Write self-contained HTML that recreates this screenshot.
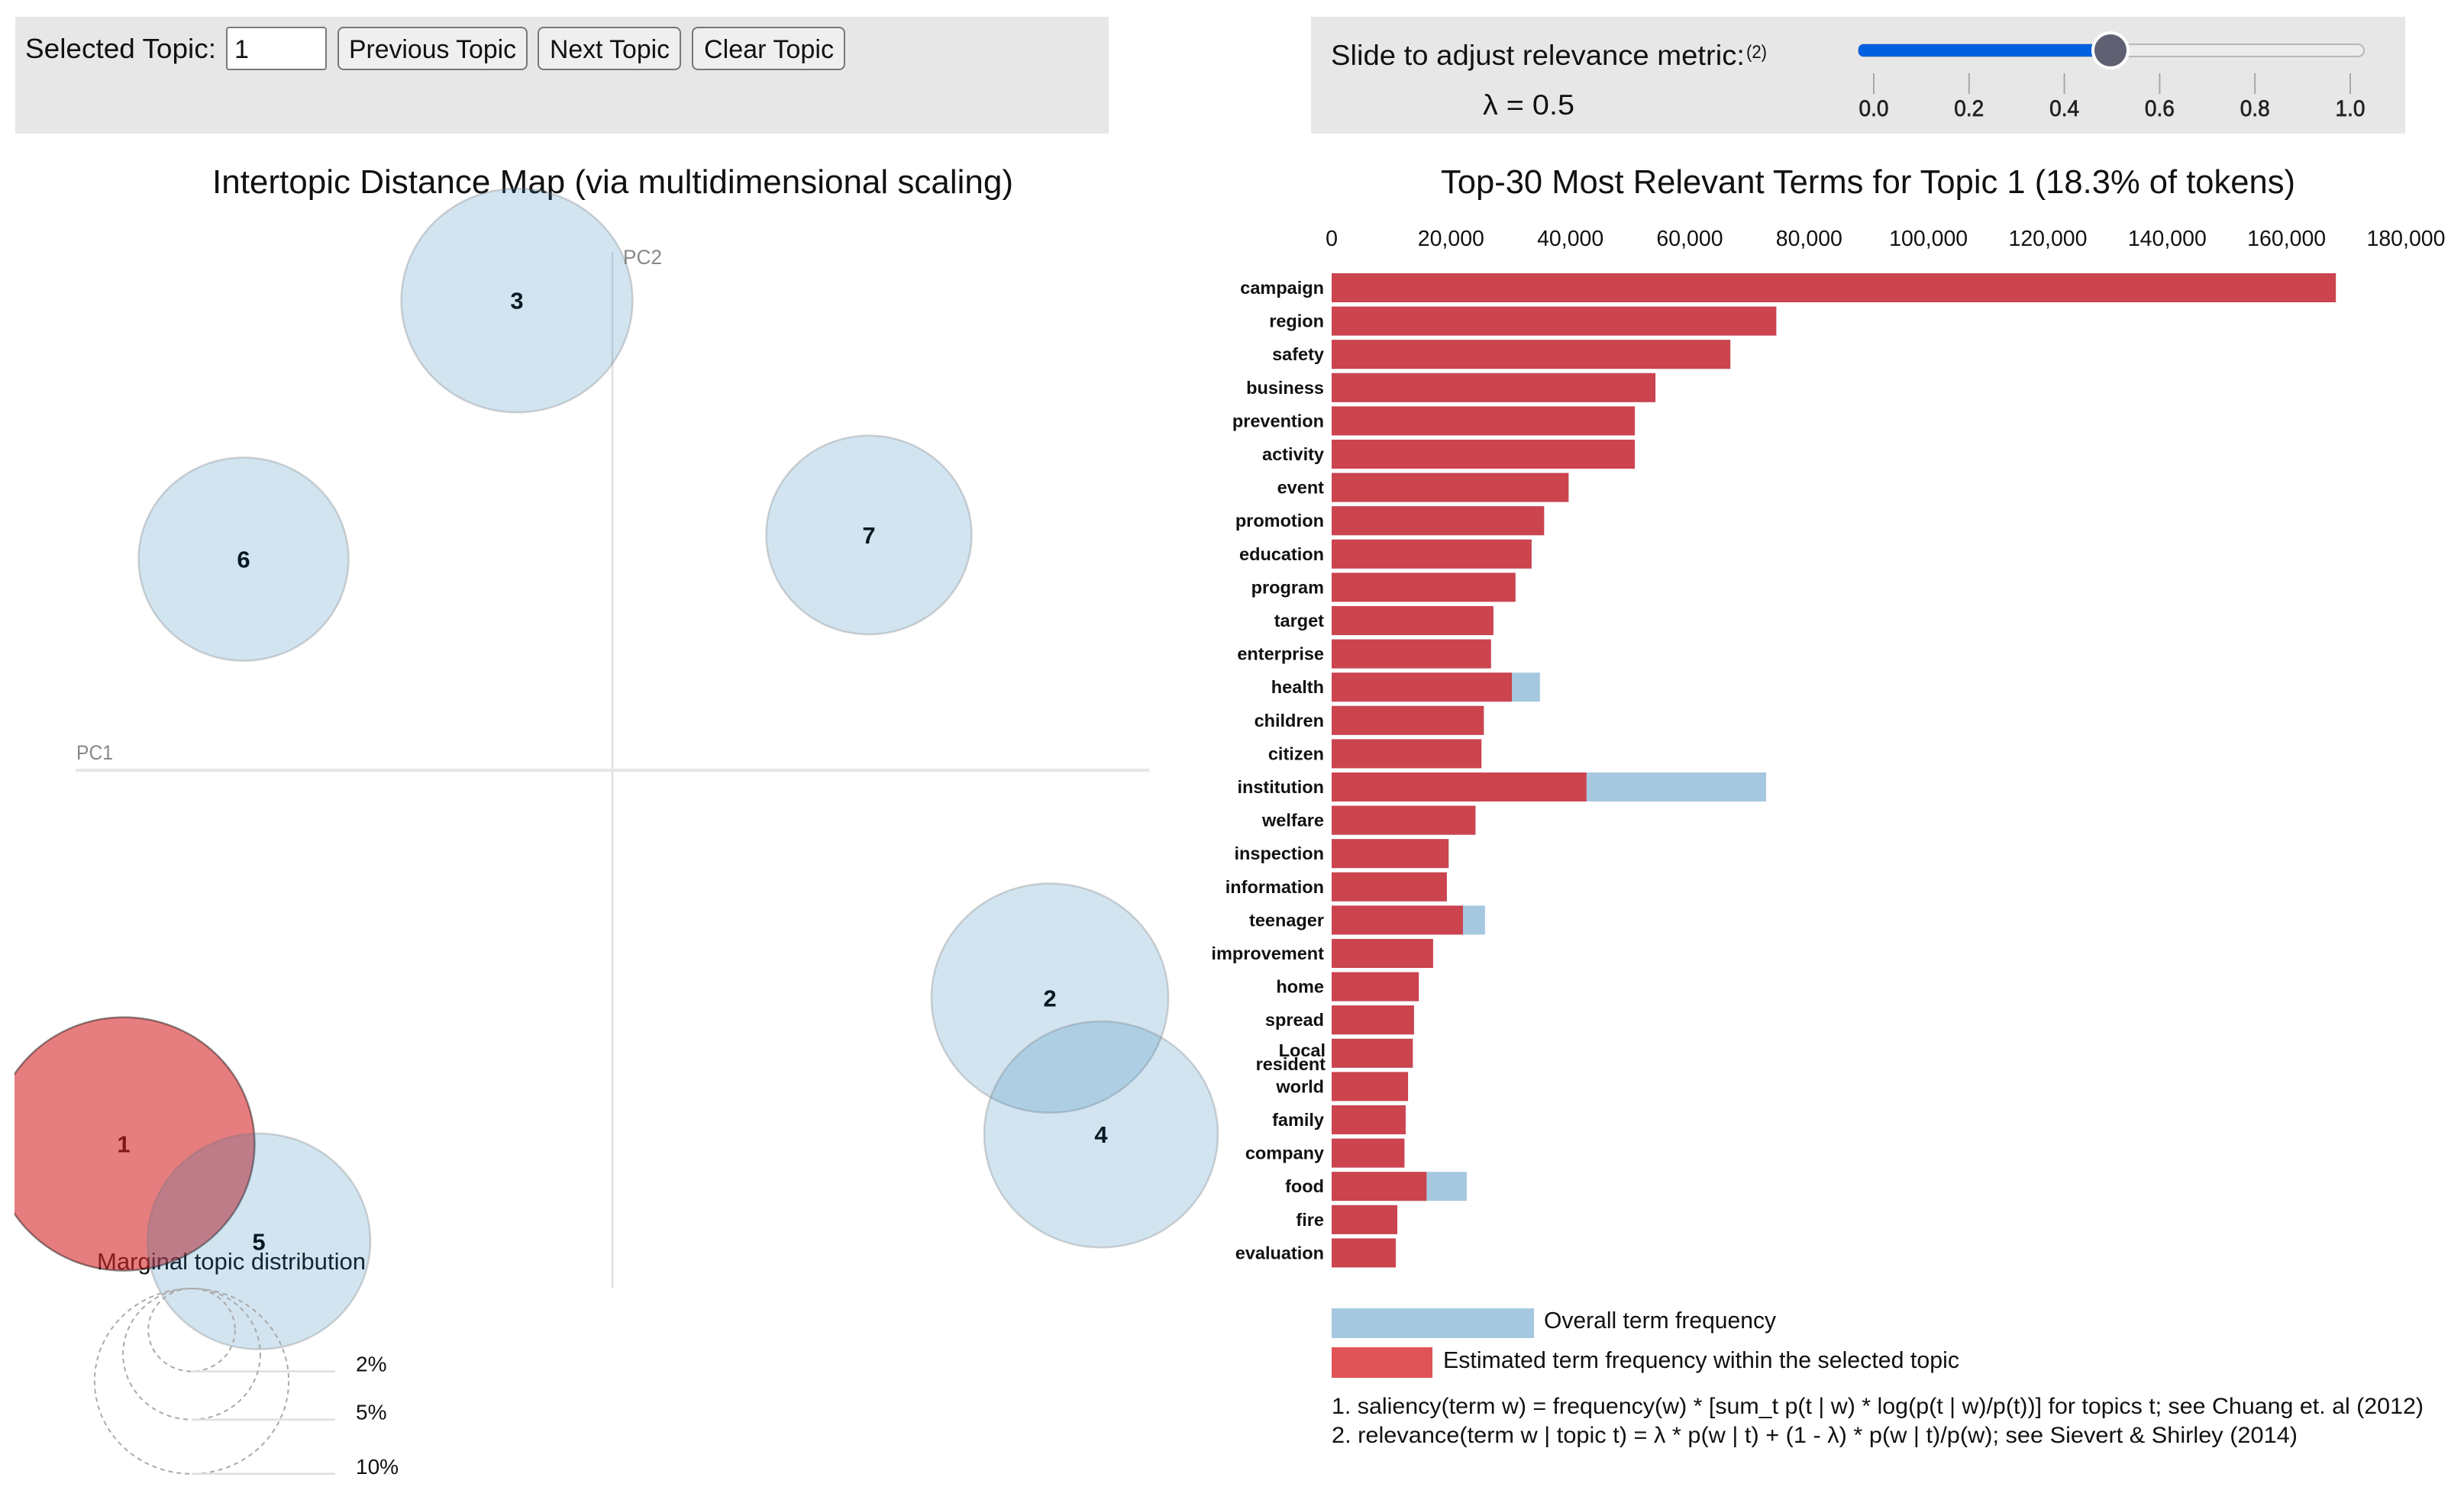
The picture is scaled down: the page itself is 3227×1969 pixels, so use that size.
<!DOCTYPE html>
<html lang="en">
<head>
<meta charset="utf-8">
<title>LDAvis topic model</title>
<style>
html,body{margin:0;padding:0;background:#fff;width:3227px;height:1969px;overflow:hidden}
svg{display:block;font-family:"Liberation Sans",sans-serif}
</style>
</head>
<body>
<svg id="vis" xmlns="http://www.w3.org/2000/svg" width="3227" height="1969" viewBox="0 0 3227 1969">
  <defs>
    <clipPath id="map-clip"><rect x="19" y="180" width="1600" height="1780"/></clipPath>
  </defs>
  <rect x="20" y="22" width="1432" height="153" fill="#e7e7e7"/>
  <rect x="1717" y="22" width="1433" height="153" fill="#e7e7e7"/>

  <text x="33" y="76" font-size="36" fill="#111" textLength="250" lengthAdjust="spacingAndGlyphs">Selected Topic:</text>
  <g>
    <rect x="297" y="36" width="130" height="55" rx="3" fill="#fff" stroke="#7a7a7a" stroke-width="2"/>
    <text x="307" y="76" font-size="34" fill="#111">1</text>
  </g>
  <g>
    <rect x="443" y="36" width="247" height="55" rx="7" fill="#efefef" stroke="#777" stroke-width="2"/>
    <text x="457" y="76" font-size="34" fill="#111" textLength="219" lengthAdjust="spacingAndGlyphs">Previous Topic</text>
  </g>
  <g>
    <rect x="705" y="36" width="186" height="55" rx="7" fill="#efefef" stroke="#777" stroke-width="2"/>
    <text x="720" y="76" font-size="34" fill="#111" textLength="157" lengthAdjust="spacingAndGlyphs">Next Topic</text>
  </g>
  <g>
    <rect x="907" y="36" width="199" height="55" rx="7" fill="#efefef" stroke="#777" stroke-width="2"/>
    <text x="922" y="76" font-size="34" fill="#111" textLength="170" lengthAdjust="spacingAndGlyphs">Clear Topic</text>
  </g>

  <text x="1743" y="85" font-size="37" fill="#111" textLength="542" lengthAdjust="spacingAndGlyphs">Slide to adjust relevance metric:</text>
  <text x="2287" y="76" font-size="24" fill="#111" textLength="27" lengthAdjust="spacingAndGlyphs">(2)</text>
  <text x="1942" y="150" font-size="37" fill="#111" textLength="120" lengthAdjust="spacingAndGlyphs">λ = 0.5</text>

  <g id="slider"></g>

  <text x="278" y="253" font-size="44" fill="#111" textLength="1049" lengthAdjust="spacingAndGlyphs">Intertopic Distance Map (via multidimensional scaling)</text>
  <text x="1887" y="253" font-size="44" fill="#111" textLength="1119" lengthAdjust="spacingAndGlyphs">Top-30 Most Relevant Terms for Topic 1 (18.3% of tokens)</text>

  <g id="map" clip-path="url(#map-clip)"></g>
  <g id="map-axes-top"></g>
  <g id="bars"></g>

  <rect x="1744" y="1714" width="265" height="39" fill="#a5c8e0"/>
  <text x="2022" y="1740" font-size="31" fill="#111" textLength="304" lengthAdjust="spacingAndGlyphs">Overall term frequency</text>
  <rect x="1744" y="1765" width="132" height="40" fill="#e05357"/>
  <text x="1890" y="1792" font-size="31" fill="#111" textLength="676" lengthAdjust="spacingAndGlyphs">Estimated term frequency within the selected topic</text>
  <text x="1744" y="1852" font-size="30" fill="#111" textLength="1430" lengthAdjust="spacingAndGlyphs">1. saliency(term w) = frequency(w) * [sum_t p(t | w) * log(p(t | w)/p(t))] for topics t; see Chuang et. al (2012)</text>
  <text x="1744" y="1890" font-size="30" fill="#111" textLength="1265" lengthAdjust="spacingAndGlyphs">2. relevance(term w | topic t) = λ * p(w | t) + (1 - λ) * p(w | t)/p(w); see Sievert &amp; Shirley (2014)</text>
</svg>

<script>
// Topic map data
const topicIds = [1, 2, 3, 4, 5, 6, 7];
const topicPc1 = [-0.640, 0.573, -0.125, 0.640, -0.463, -0.483, 0.336];
const topicPc2 = [-0.510, -0.311, 0.641, -0.497, -0.643, 0.288, 0.321];
const topicShare = [18.2, 14.9, 14.2, 14.5, 13.2, 11.7, 11.2];
const selectedTopic = 1;
const marginalShares = [2, 5, 10];

// Bar chart data
const terms = ["campaign","region","safety","business","prevention","activity","event","promotion","education","program","target","enterprise","health","children","citizen","institution","welfare","inspection","information","teenager","improvement","home","spread","Local resident","world","family","company","food","fire","evaluation"];
const topicFreq = [168250,74500,66800,54250,50800,50800,39700,35600,33500,30800,27100,26700,30200,25500,25100,42700,24100,19600,19300,22000,17000,14600,13800,13600,12800,12400,12200,15900,11000,10750];
const overallFreq = [168250,74500,66800,54250,50800,50800,39700,35600,33500,30800,27100,26700,34900,25500,25100,72800,24100,19600,19300,25700,17000,14600,13800,13600,12800,12400,12200,22650,11000,10750];
const freqTicks = [0,20000,40000,60000,80000,100000,120000,140000,160000,180000];

// Slider data
const lambdaTicks = [0, 0.2, 0.4, 0.6, 0.8, 1.0];
const lambdaValue = 0.5;

const NS = 'http://www.w3.org/2000/svg';
function mk(parent, tag, attrs, text) {
  const el = document.createElementNS(NS, tag);
  for (const k in attrs) el.setAttribute(k, attrs[k]);
  if (text !== undefined) el.textContent = text;
  parent.appendChild(el);
  return el;
}
function slug(s) { return String(s).toLowerCase().replace(/[^a-z0-9]+/g, '-'); }

// Axis functions
const sx = v => 802 + v * 1000;
const sy = v => 1009 - v * 960;
const rScale = s => 40.2 * Math.sqrt(s);
const Y_RATIO = 0.968;
const fx = v => 1744 + v * (1407 / 180000);
const rowY = i => 358 + i * 43.6;
const lx = v => 2454 + v * 624;

// Slider
const slider = document.getElementById('slider');
let el = mk(slider, 'rect', {x:2434, y:58, width:662, height:16, rx:8, fill:'#ececec', stroke:'#b8b8b8', 'stroke-width':2});


el = mk(slider, 'rect', {x:2434, y:58, width:lx(lambdaValue) - 2434, height:16, rx:6, fill:'#0060df'});


lambdaTicks.forEach(t => {
  let tk = mk(slider, 'line', {x1:lx(t), x2:lx(t), y1:96, y2:123, stroke:'#a8a8a8', 'stroke-width':2});
  
  
  let lb = mk(slider, 'text', {x:lx(t), y:152, 'font-size':30, 'text-anchor':'middle', fill:'#222', stroke:'#222', 'stroke-width':0.7, textLength:39, lengthAdjust:'spacingAndGlyphs'}, t.toFixed(1));
  
  
});
el = mk(slider, 'circle', {cx:lx(lambdaValue) - 2, cy:66, r:23, fill:'#5f6072', stroke:'#fff', 'stroke-width':4});



// Map
const map = document.getElementById('map');
el = mk(map, 'line', {x1:802, x2:802, y1:330, y2:1687, stroke:'#e0e0e0', 'stroke-width':2.5});


el = mk(map, 'line', {x1:99, x2:1505, y1:1009, y2:1009, stroke:'#e6e6e6', 'stroke-width':4});


el = mk(map, 'text', {x:816, y:346, 'font-size':27, fill:'#888', textLength:51, lengthAdjust:'spacingAndGlyphs'}, 'PC2');


el = mk(map, 'text', {x:100, y:995, 'font-size':27, fill:'#888', textLength:48, lengthAdjust:'spacingAndGlyphs'}, 'PC1');



el = mk(map, 'text', {x:127, y:1663, 'font-size':31, fill:'#111', textLength:352, lengthAdjust:'spacingAndGlyphs'}, 'Marginal topic distribution');



// Topic number labels sit beneath the translucent circles
topicIds.forEach((id, i) => {
  const t = mk(map, 'text', {x:sx(topicPc1[i]), y:sy(topicPc2[i]) + 11, 'font-size':31, 'font-weight':'bold', 'text-anchor':'middle', fill:'#000'}, id);
  
  
});
topicIds.forEach((id, i) => {
  const r = rScale(topicShare[i]);
  const sel = id === selectedTopic;
  const c = mk(map, 'ellipse', {
    cx:sx(topicPc1[i]), cy:sy(topicPc2[i]), rx:r, ry:r * Y_RATIO,
    fill: sel ? '#d62728' : '#1f77b4', 'fill-opacity': sel ? 0.6 : 0.2,
    stroke: sel ? '#000' : '#777', 'stroke-opacity': sel ? 0.42 : 0.3, 'stroke-width':2.5
  });
  
  
});

// Marginal legend
const mCx = 251;
marginalShares.forEach(s => {
  const r = rScale(s), ry = r * 0.955;
  const top = 1688;
  const cy = top + ry;
  const c = mk(map, 'ellipse', {cx:mCx, cy:cy, rx:r, ry:ry, fill:'none', stroke:'#aaa', 'stroke-width':2, 'stroke-dasharray':'6 5'});
  
  
  const bottom = top + 2 * ry;
  const ln = mk(map, 'line', {x1:mCx, x2:439, y1:bottom, y2:bottom, stroke:'#dedede', 'stroke-width':2.5});
  
  
  const lb = mk(map, 'text', {x:466, y:bottom, 'font-size':28, fill:'#111'}, s + '%');
  
  
});

// Bars
const bars = document.getElementById('bars');
freqTicks.forEach(t => {
  const lb = mk(bars, 'text', {x:fx(t), y:322, 'font-size':28.5, 'text-anchor':'middle', fill:'#111'}, t.toLocaleString('en-US'));
  
  
});
terms.forEach((term, i) => {
  const y = rowY(i);
  const over = mk(bars, 'rect', {x:fx(0), y:y, width:fx(overallFreq[i]) - fx(0), height:38, fill:'#a5c8e0'});
  
  
  const est = mk(bars, 'rect', {x:fx(0), y:y, width:fx(topicFreq[i]) - fx(0), height:38, fill:'#cb444e'});
  
  
  const words = term.split(' ');
  if (words.length === 1) {
    const lb = mk(bars, 'text', {x:1734, y:y + 27, 'font-size':23.5, 'font-weight':'bold', 'text-anchor':'end', fill:'#111'}, term);
    
    
  } else {
    words.forEach((w, k) => {
      const lb = mk(bars, 'text', {x:1736, y:y + 23 + k * 18, 'font-size':23.5, 'font-weight':'bold', 'text-anchor':'end', fill:'#111'}, w);
      
      
    });
  }
});
</script>
</body>
</html>
